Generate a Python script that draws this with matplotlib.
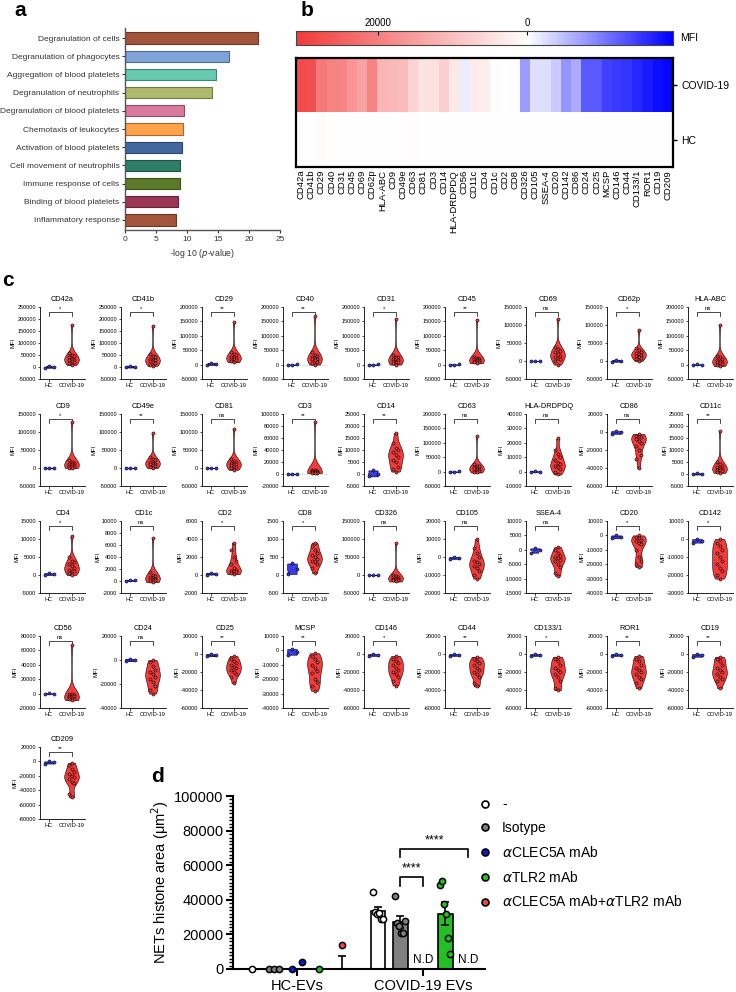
import numpy as np
import matplotlib.pyplot as plt
from matplotlib.colors import LinearSegmentedColormap, TwoSlopeNorm, to_rgb
from matplotlib.lines import Line2D

W, H = 736, 992

# ---- panel a: pathway enrichment
functions = ['Degranulation of cells', 'Degranulation of phagocytes', 'Aggregation of blood platelets',
             'Degranulation of neutrophils', 'Degranulation of blood platelets', 'Chemotaxis of leukocytes',
             'Activation of blood platelets', 'Cell movement of neutrophils', 'Immune response of cells',
             'Binding of blood platelets', 'Inflammatory response']
neglogp = [21.5, 16.7, 14.6, 14.0, 9.5, 9.4, 9.2, 8.8, 8.8, 8.5, 8.3]
func_colors = ['#A3553C', '#80A4D8', '#68C9B1', '#AEB96E', '#DA7A9C', '#FFA24C',
               '#42679F', '#2F7E69', '#5B7B2B', '#9C3657', '#A3553C']

# ---- panel b: heatmap of MFI
heat_markers = ['CD42a', 'CD41b', 'CD29', 'CD40', 'CD31', 'CD45', 'CD69', 'CD62p', 'HLA-ABC', 'CD9',
                'CD49e', 'CD63', 'CD81', 'CD3', 'CD14', 'HLA-DRDPDQ', 'CD56', 'CD11c', 'CD4', 'CD1c',
                'CD2', 'CD8', 'CD326', 'CD105', 'SSEA-4', 'CD20', 'CD142', 'CD86', 'CD24', 'CD25',
                'MCSP', 'CD146', 'CD44', 'CD133/1', 'ROR1', 'CD19', 'CD209']
heat_covid = [28000, 27500, 21000, 19500, 19000, 16500, 14500, 19500, 11500, 11000,
              10500, 7000, 4500, 4500, 7500, 3500, -1500, 3000, 2500, 300,
              200, 300, -7500, -2500, -2500, -4000, -8000, -6500, -12500, -12500,
              -14500, -15000, -15500, -16500, -17500, -18500, -19000]
heat_hc = [200, 200, 700, 100, 200, 100, 150, 200, 100, 150,
           200, 400, 100, 50, 100, 50, 50, 50, 50, 50,
           50, 50, 0, 0, -50, -50, -50, -50, -50, -50,
           -50, -50, -50, -50, -50, -50, -50]

# ---- panel c: violin plots
violin_markers = ['CD42a', 'CD41b', 'CD29', 'CD40', 'CD31', 'CD45', 'CD69', 'CD62p', 'HLA-ABC',
                  'CD9', 'CD49e', 'CD81', 'CD3', 'CD14', 'CD63', 'HLA-DRDPDQ', 'CD86', 'CD11c',
                  'CD4', 'CD1c', 'CD2', 'CD8', 'CD326', 'CD105', 'SSEA-4', 'CD20', 'CD142',
                  'CD56', 'CD24', 'CD25', 'MCSP', 'CD146', 'CD44', 'CD133/1', 'ROR1', 'CD19',
                  'CD209']
violin_ymin = [-50000, -50000, -50000, -50000, -50000, -50000, -50000, -50000, -50000,
               -50000, -50000, -50000, -20000, -5000, -50000, -10000, -60000, -5000,
               -5000, -2000, -2000, -500, -50000, -20000, -15000, -40000, -30000,
               -20000, -40000, -60000, -40000, -60000, -60000, -60000, -60000, -60000,
               -80000]
violin_ymax = [250000, 250000, 200000, 200000, 200000, 200000, 150000, 150000, 200000,
               150000, 150000, 150000, 100000, 25000, 200000, 40000, 20000, 25000,
               15000, 10000, 6000, 1500, 150000, 20000, 10000, 10000, 10000,
               80000, 20000, 20000, 10000, 20000, 20000, 20000, 20000, 20000,
               20000]
violin_step = [50000, 50000, 50000, 50000, 50000, 50000, 50000, 50000, 50000,
               50000, 50000, 50000, 20000, 5000, 50000, 10000, 20000, 5000,
               5000, 2000, 2000, 500, 50000, 10000, 5000, 10000, 10000,
               20000, 20000, 20000, 10000, 20000, 20000, 20000, 20000, 20000,
               20000]
violin_sig = ['*', '*', '**', '**', '*', '**', 'ns', '*', 'ns',
              '*', '**', 'ns', '**', '**', 'ns', 'ns', 'ns', '**',
              '*', 'ns', '*', '*', 'ns', 'ns', 'ns', '*', '*',
              'ns', 'ns', '**', '**', '*', '**', '*', '**', '**',
              '**']
violin_hc = [[-3000, 5000, -1000], [-2000, 4000, 0], [-1000, 5000, 1000], [-500, 0, 500],
             [-500, 0, 500], [-1000, 0, 1000], [-500, 0, 500], [-2000, 3000, 0], [-1000, 1000, 0],
             [-1000, 1000, 0], [-500, 0, 500], [-500, 0, 500], [-500, 0, 500], [-1000, 1500, 200],
             [-500, 0, 500], [-300, 300, 0], [-2000, 1000, -500], [-200, 300, 100],
             [0, 500, 250], [0, 200, 100], [50, 250, 150], [30, 320, 180], [-500, 500, 0],
             [-1000, 0, -500], [-1000, 500, 0], [-2000, 0, -1000], [-2000, 0, -1000],
             [-500, 500, 0], [-1000, 1000, 0], [-2500, 0, -1000], [-3000, 1000, -1000],
             [-2000, 0, -1000], [-2000, 0, -1000], [-2000, 0, -1000], [-2000, 0, -1000],
             [-3000, 0, -1500], [-3000, 0, -1500]]
violin_covid = [
    [175000, 60000, 50000, 45000, 40000, 35000, 30000, 28000, 25000, 20000, 15000, 8000],
    [172000, 55000, 45000, 40000, 35000, 30000, 28000, 25000, 20000, 15000, 10000, 5000],
    [148000, 45000, 38000, 32000, 28000, 25000, 22000, 20000, 18000, 15000, 12000, 8000],
    [168000, 45000, 35000, 30000, 25000, 22000, 20000, 18000, 15000, 10000, 5000, 0],
    [160000, 35000, 28000, 25000, 20000, 18000, 15000, 12000, 10000, 8000, 5000, 0],
    [155000, 25000, 22000, 20000, 18000, 17000, 15000, 14000, 12000, 10000, 8000, 5000],
    [118000, 40000, 32000, 28000, 25000, 20000, 15000, 12000, 8000, 5000, 0, -10000],
    [85000, 35000, 30000, 25000, 22000, 20000, 18000, 15000, 12000, 8000, 5000, 0],
    [138000, 30000, 25000, 20000, 15000, 12000, 10000, 8000, 5000, 2000, 0, -5000],
    [127000, 22000, 18000, 15000, 12000, 10000, 8000, 6000, 5000, 3000, 1000, 0],
    [98000, 30000, 25000, 22000, 18000, 15000, 12000, 10000, 8000, 5000, 2000, 0],
    [108000, 25000, 20000, 18000, 15000, 12000, 10000, 8000, 5000, 2000, 0, -5000],
    [87000, 7000, 6000, 5000, 4500, 4000, 3500, 3000, 3000, 2500, 2000, 1500],
    [17000, 13000, 11000, 10000, 9000, 8000, 7000, 6000, 5000, 3000, 2000, 1000],
    [125000, 25000, 20000, 18000, 15000, 12000, 10000, 8000, 5000, 2000, 0, -3000],
    [23000, 15000, 12000, 10000, 8000, 6000, 5000, 4000, 3000, 2000, 0, -2000],
    [-2000, -4000, -5000, -6000, -8000, -10000, -12000, -15000, -20000, -25000, -30000, -40000],
    [18000, 5000, 4000, 3500, 3000, 2500, 2000, 1800, 1500, 1200, 1000, 500],
    [10700, 5000, 4000, 3500, 3000, 2500, 2000, 1500, 1200, 1000, 500, 0],
    [7200, 1500, 1000, 800, 600, 500, 400, 300, 200, 100, 0, -200],
    [3600, 2800, 2000, 1600, 1200, 800, 600, 500, 400, 300, 200, 100],
    [900, 800, 700, 600, 550, 500, 450, 400, 350, 300, 200, 50],
    [88000, 0, -2000, -5000, -6000, -8000, -10000, -10000, -12000, -14000, -15000, -18000],
    [10000, 5000, 2000, 0, -2000, -3000, -4000, -5000, -6000, -8000, -10000, -12000],
    [1000, 0, -1000, -2000, -2500, -3000, -3500, -4000, -5000, -6000, -8000, -9000],
    [0, -1000, -2000, -3000, -4000, -5000, -6000, -10000, -15000, -18000, -20000, -22000],
    [0, -2000, -4000, -6000, -8000, -10000, -12000, -14000, -16000, -18000, -20000, -22000],
    [67000, 0, -1000, -2000, -3000, -3000, -4000, -5000, -6000, -7000, -8000, -9000],
    [0, -2000, -5000, -8000, -10000, -12000, -14000, -16000, -18000, -22000, -25000, -28000],
    [-2000, -5000, -8000, -10000, -12000, -14000, -16000, -18000, -20000, -22000, -25000, -32000],
    [-2000, -4000, -6000, -8000, -10000, -12000, -14000, -16000, -20000, -22000, -25000, -28000],
    [-2000, -5000, -8000, -10000, -12000, -15000, -18000, -20000, -22000, -25000, -30000, -35000],
    [-3000, -6000, -8000, -10000, -12000, -15000, -18000, -20000, -22000, -25000, -32000, -36000],
    [-3000, -6000, -8000, -12000, -15000, -18000, -20000, -22000, -25000, -30000, -38000, -40000],
    [-2000, -5000, -8000, -12000, -15000, -18000, -20000, -22000, -25000, -28000, -32000, -38000],
    [-3000, -5000, -8000, -12000, -15000, -18000, -20000, -22000, -25000, -28000, -30000, -38000],
    [-2000, -5000, -10000, -15000, -18000, -20000, -22000, -25000, -28000, -30000, -45000, -50000],
]
zero_line_markers = ['CD40', 'CD3']

# ---- panel d: NETs
treatments = ['-', 'Isotype', r'$\alpha$CLEC5A mAb', r'$\alpha$TLR2 mAb', r'$\alpha$CLEC5A mAb+$\alpha$TLR2 mAb']
treat_colors = ['white', '#808080', '#1515D5', '#22C022', '#F04545']
ev_groups = ['HC-EVs', 'COVID-19 EVs']
hc_points = [[0], [0, 0, 0], [0, 3900], [0], [13600]]
hc_means = [0, 0, 0, 0, 0]
hc_sems = [0, 0, 0, 0, 7400]
covid_points = [[44700, 33000, 31600, 32600, 29100, 28700],
                [42300, 26800, 24900, 21000, 21000, 27800],
                None,
                [48500, 51000, 37300, 31600, 18100, 8900],
                None]
covid_means = [33300, 27300, 0, 32000, 0]
covid_sems = [2300, 3400, 0, 6600, 0]
d_sig_pairs = [(1, 2, 53000, '****'), (1, 4, 69500, '****')]


def px_axes(fig, x0, y0, x1, y1):
    return fig.add_axes([x0 / W, 1 - y1 / H, (x1 - x0) / W, (y1 - y0) / H])


fig = plt.figure(figsize=(W / 100, H / 100), dpi=100)
plt.rcParams['font.family'] = ['Liberation Sans', 'DejaVu Sans']

# ================= panel a
ax = px_axes(fig, 125, 28, 280, 230)
ypos = np.arange(len(functions))
edge = [tuple(c * 0.65 for c in to_rgb(col)) for col in func_colors]
ax.barh(ypos, neglogp, height=0.62, color=func_colors, edgecolor=edge, linewidth=0.8)
ax.set_ylim(len(functions) - 0.45, -0.55)
ax.set_xlim(0, 25)
ax.set_yticks(ypos)
ax.set_yticklabels(functions, fontsize=6.4)
ax.set_xticks([0, 5, 10, 15, 20, 25])
ax.tick_params(labelsize=6, length=2.5, width=0.8, colors='#333333', pad=1.5)
for s in ['top', 'right']:
    ax.spines[s].set_visible(False)
for s in ['left', 'bottom']:
    ax.spines[s].set_linewidth(1.0)
    ax.spines[s].set_color('#555555')
ax.set_xlabel('-log 10 ($p$-value)', fontsize=6.2, labelpad=3, color='#333333')

# ================= panel b
cmap = LinearSegmentedColormap.from_list('bwr_mfi', ['#0000FF', '#FFFFFF', '#F23A3A'])
norm = TwoSlopeNorm(vmin=-19500, vcenter=0, vmax=31000)

cax = px_axes(fig, 296, 31, 673, 45)
cb_vals = np.linspace(31000, -19500, 400)
cax.imshow(cb_vals[None, :], aspect='auto', cmap=cmap, norm=norm,
           extent=[31000, -19500, 0, 1])
cax.set_xlim(31000, -19500)
cax.set_yticks([])
cax.xaxis.tick_top()
cax.set_xticks([20000, 0])
cax.set_xticklabels(['20000', '0'])
cax.tick_params(axis='x', direction='in', length=3, width=0.8, labelsize=7, pad=2)
for s in cax.spines.values():
    s.set_linewidth(0.8)
    s.set_color('#444444')
fig.text(680 / W, 1 - 38 / H, 'MFI', fontsize=7.5, va='center', ha='left')

hax = px_axes(fig, 296, 58, 673, 167)
hax.imshow(np.array([heat_covid, heat_hc]), aspect='auto', cmap=cmap, norm=norm,
           interpolation='nearest')
hax.set_xticks(np.arange(len(heat_markers)))
hax.set_xticklabels(heat_markers, rotation=90, fontsize=6.8)
hax.yaxis.tick_right()
hax.set_yticks([0, 1])
hax.set_yticklabels(['COVID-19', 'HC'], fontsize=7.5)
hax.tick_params(axis='x', length=0, pad=2)
hax.tick_params(axis='y', length=3, width=1.0, pad=3)
for s in hax.spines.values():
    s.set_linewidth(1.6)

# ================= panel c
col_left = [40 + 81 * i for i in range(9)]
row_bottom = [379, 486, 593, 708, 819]
for k, name in enumerate(violin_markers):
    r, c = divmod(k, 9)
    x0 = col_left[c]
    y1 = row_bottom[r]
    ax = px_axes(fig, x0, y1 - 72, x0 + 45, y1)
    lo, hi, st = violin_ymin[k], violin_ymax[k], violin_step[k]
    hc = violin_hc[k]
    cov = violin_covid[k]
    parts = ax.violinplot([hc, cov], positions=[0, 1], widths=[0.45, 0.65],
                          showextrema=False, bw_method=0.45)
    for body, col in zip(parts['bodies'], ['#3C3CE6', '#F23C3C']):
        body.set_facecolor(col)
        body.set_edgecolor('black')
        body.set_linewidth(0.4)
        body.set_alpha(1)
    hc_off = np.linspace(-0.2, 0.2, len(hc))
    ax.scatter(hc_off, hc, s=5, color='#3C3CE6', edgecolor='black', linewidth=0.4, zorder=3)
    cs = sorted(cov, reverse=True)
    cov_off = [0.0] + [((i % 3) - 1) * 0.13 for i in range(len(cs) - 1)]
    ax.scatter(1 + np.array(cov_off), cs, s=5, color='#F23C3C', edgecolor='black',
               linewidth=0.4, zorder=3)
    if name in zero_line_markers:
        ax.axhline(0, color='#999999', lw=0.5, ls=':', zorder=0)
    rng = hi - lo
    yb = hi - 0.07 * rng
    ax.plot([0, 0, 1, 1], [yb - 0.05 * rng, yb, yb, yb - 0.05 * rng], color='black', lw=0.5)
    ax.text(0.5, yb + 0.01 * rng, violin_sig[k], ha='center', va='bottom', fontsize=4.3)
    ax.set_ylim(lo, hi)
    ax.set_xlim(-0.4, 1.6)
    ticks = np.arange(lo, hi + st / 2, st)
    ax.set_yticks(ticks)
    ax.set_yticklabels([str(int(t)) for t in ticks])
    ax.set_xticks([0, 1])
    ax.set_xticklabels(['HC', 'COVID-19'])
    ax.tick_params(labelsize=4.0, length=1.8, width=0.5, pad=1)
    ax.tick_params(axis='x', labelsize=4.1)
    ax.set_ylabel('MFI', fontsize=4.2, labelpad=1)
    ax.set_title(name, fontsize=5.3, pad=4)
    for s in ['top', 'right']:
        ax.spines[s].set_visible(False)
    for s in ['left', 'bottom']:
        ax.spines[s].set_linewidth(0.6)

# ================= panel d
ax = px_axes(fig, 233, 796, 485, 969)
bw = 0.65
group_start = [0.0, 5.6]
for g, (pts_list, means, sems) in enumerate([(hc_points, hc_means, hc_sems),
                                               (covid_points, covid_means, covid_sems)]):
    for t in range(len(treatments)):
        x = group_start[g] + t
        pts = pts_list[t]
        if pts is None:
            ax.text(x, 2000, 'N.D', ha='center', va='bottom', fontsize=8.5)
            continue
        ax.bar(x, means[t], width=bw, color=treat_colors[t], edgecolor='black', linewidth=1.2, zorder=1)
        if sems[t] > 0:
            ax.errorbar(x, means[t], yerr=[[min(sems[t], means[t])], [sems[t]]], color='black',
                        capsize=3, elinewidth=1.2, capthick=1.2, zorder=2)
        n = len(pts)
        offs = np.linspace(-0.22, 0.22, n) if n > 1 else [0.0]
        ax.scatter(x + np.array(offs), pts, s=20, color=treat_colors[t], edgecolor='black',
                   linewidth=1.1, zorder=4, clip_on=False)

for a, b, yv, lab in d_sig_pairs:
    xa, xb = group_start[1] + a, group_start[1] + b
    ax.plot([xa, xa, xb, xb], [yv - 4800, yv, yv, yv - 4800], color='black', lw=1.2)
    ax.text((xa + xb) / 2, yv + 1500, lab, ha='center', va='bottom', fontsize=9)

ax.set_xlim(-0.84, 10.36)
ax.set_ylim(0, 100000)
ax.set_yticks(np.arange(0, 100001, 20000))
ax.set_yticks(np.arange(0, 100001, 2000), minor=True)
ax.set_xticks([group_start[0] + 2, group_start[1] + 2])
ax.set_xticklabels(ev_groups)
ax.tick_params(axis='both', labelsize=10.5, width=1.5, length=5, pad=2)
ax.tick_params(axis='y', which='minor', width=1.0, length=3)
ax.set_ylabel('NETs histone area (μm$^{2}$)', fontsize=10.5, labelpad=2)
for s in ['top', 'right']:
    ax.spines[s].set_visible(False)
for s in ['left', 'bottom']:
    ax.spines[s].set_linewidth(1.5)

handles = [Line2D([], [], marker='o', ls='none', markersize=5, markerfacecolor=c,
                  markeredgecolor='black', markeredgewidth=1.2) for c in treat_colors]
fig.legend(handles, treatments, loc='upper left', bbox_to_anchor=(466 / W, 1 - 785 / H),
           frameon=False, fontsize=10, handletextpad=0.7, labelspacing=0.7,
           handlelength=1.0)

# panel letters
for lab, x, y in [('a', 20, 11), ('b', 307, 11), ('c', 8, 280), ('d', 157, 776)]:
    fig.text(x / W, 1 - y / H, lab, fontsize=15, fontweight='bold', ha='center', va='center')

fig.savefig('out.png', dpi=100)
